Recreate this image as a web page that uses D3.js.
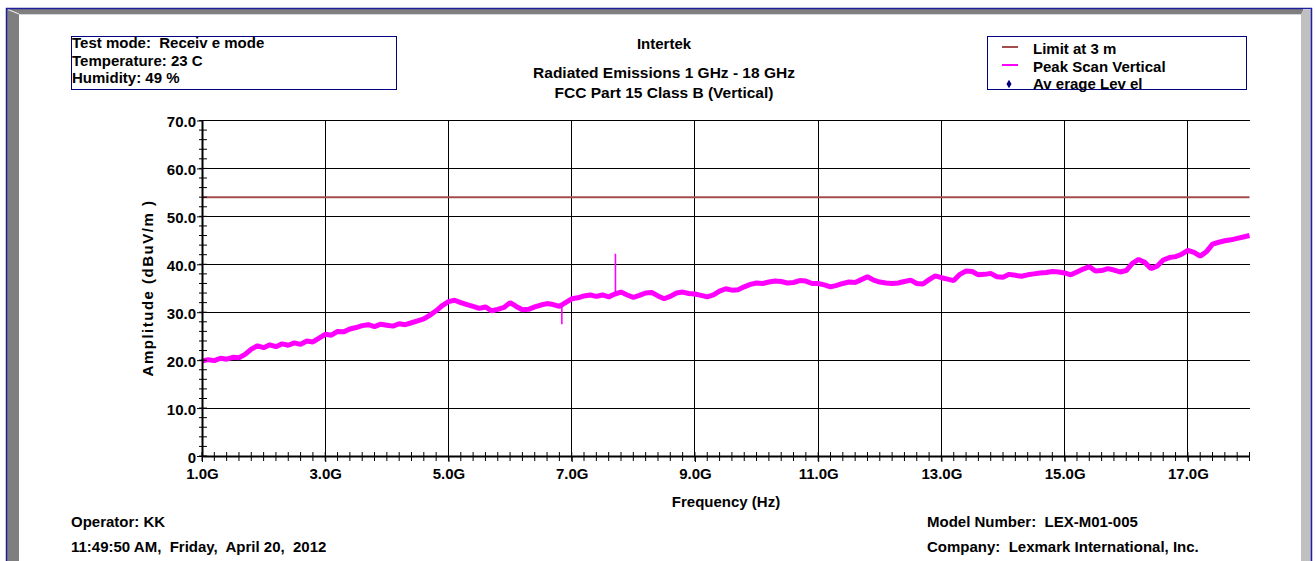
<!DOCTYPE html>
<html>
<head>
<meta charset="utf-8">
<script src="https://cdn.jsdelivr.net/npm/d3@7"></script>
<style>
  html, body { margin: 0; padding: 0; background: #fff; }
  svg { display: block; }
  text { font-family: "Liberation Sans", Arial, Helvetica, sans-serif; font-weight: bold; fill: #000; white-space: pre; }
</style>
</head>
<body>
<svg id="chart" width="1316" height="561"></svg>
<script>
// ---- Data -------------------------------------------------------------
const titleLines = ["Intertek", "Radiated Emissions 1 GHz - 18 GHz", "FCC Part 15 Class B (Vertical)"];
const conditionLines = ["Test mode:  Receiv e mode", "Temperature: 23 C", "Humidity: 49 %"];
const legendLabels = ["Limit at 3 m", "Peak Scan Vertical", "Av erage Lev el"];
const footerLeft = ["Operator: KK", "11:49:50 AM,  Friday,  April 20,  2012"];
const footerRight = ["Model Number:  LEX-M01-005", "Company:  Lexmark International, Inc."];

const freqTicksGHz = [1, 3, 5, 7, 9, 11, 13, 15, 17];
const ampTicks = [0, 10, 20, 30, 40, 50, 60, 70];
const limitAt3m = 54.0;           // dBuV/m, FCC Part 15 Class B above 1 GHz

// Peak scan (vertical), one reading per 0.1 GHz from 1.0 to 18.0 GHz
const sweepStartGHz = 1.0;
const sweepStepGHz = 0.1;
const peakScanVertical = [
  19.8, 20.1, 19.9, 20.4, 20.2, 20.6, 20.5, 21.2, 22.3, 23.0,   // 1.0 - 1.9
  22.6, 23.2, 22.8, 23.4, 23.1, 23.6, 23.3, 24.0, 23.8, 24.6,   // 2.0 - 2.9
  25.4, 25.2, 26.0, 25.9, 26.5, 26.8, 27.2, 27.4, 27.0, 27.5,   // 3.0 - 3.9
  27.3, 27.1, 27.6, 27.4, 27.8, 28.2, 28.6, 29.4, 30.3, 31.4,   // 4.0 - 4.9
  32.2, 32.5, 32.0, 31.6, 31.2, 30.8, 31.1, 30.3, 30.6, 31.0,   // 5.0 - 5.9
  32.0, 31.2, 30.5, 30.6, 31.1, 31.5, 31.8, 31.6, 31.2, 32.0,   // 6.0 - 6.9
  32.8, 33.0, 33.4, 33.6, 33.3, 33.6, 33.2, 33.8, 34.2, 33.6,   // 7.0 - 7.9
  33.1, 33.5, 34.0, 34.1, 33.4, 32.8, 33.3, 34.0, 34.2, 33.9,   // 8.0 - 8.9
  33.8, 33.5, 33.2, 33.6, 34.4, 34.9, 34.6, 34.7, 35.3, 35.8,   // 9.0 - 9.9
  36.1, 36.0, 36.3, 36.5, 36.4, 36.1, 36.2, 36.6, 36.5, 36.0,   // 10.0 - 10.9
  36.0, 35.7, 35.3, 35.6, 36.0, 36.3, 36.2, 36.8, 37.4, 36.7,   // 11.0 - 11.9
  36.3, 36.1, 36.0, 36.1, 36.4, 36.7, 36.0, 35.9, 36.8, 37.6,   // 12.0 - 12.9
  37.2, 36.9, 36.6, 37.9, 38.6, 38.5, 37.8, 37.9, 38.1, 37.4,   // 13.0 - 13.9
  37.3, 37.9, 37.7, 37.5, 37.8, 38.0, 38.2, 38.3, 38.5, 38.4,   // 14.0 - 14.9
  38.2, 37.8, 38.4, 39.0, 39.5, 38.6, 38.7, 39.1, 38.8, 38.4,   // 15.0 - 15.9
  38.7, 40.2, 41.0, 40.4, 39.1, 39.6, 40.9, 41.4, 41.6, 42.1,   // 16.0 - 16.9
  42.9, 42.5, 41.7, 42.6, 44.2, 44.6, 44.9, 45.1, 45.4, 45.7,   // 17.0 - 17.9
  46.0                                                          // 18.0
];
// Narrow excursions in the peak trace: frequency, low and high reading
const spikeFreqGHz = [6.84, 7.71];
const spikeLow = [27.5, 33.6];
const spikeHigh = [31.4, 42.2];

// ---- Setup ------------------------------------------------------------
const svg = d3.select("#chart");
const W = 1316, H = 561;
const FS = 15;

const x = d3.scaleLinear().domain([1, 18]).range([202, 1249.5]);
const y = d3.scaleLinear().domain([0, 70]).range([456, 120.5]);

svg.append("rect").attr("width", W).attr("height", H).attr("fill", "#fff");

// ---- Window frame: dark top/left bevel, light right edge, blue outline --
svg.append("path").attr("d", "M7,9 H1303 V14 H19 V561 H7 Z").attr("fill", "#7f7f7f");
svg.append("path").attr("d", "M1301,14 L1303,10 H1311 V561 H1301 Z").attr("fill", "#c0c0c0");
svg.append("path").attr("d", "M8,9.5 L19,14").attr("stroke", "#e6e6e6").attr("stroke-width", 1.2).attr("fill", "none");
svg.append("path").attr("d", "M19,14.5 H1301").attr("stroke", "#d6d6d6").attr("stroke-width", 1).attr("fill", "none");
svg.append("path").attr("d", `M6.5,${H} V8.5 H1311.5 V${H}`)
  .attr("fill", "none").attr("stroke", "#1f1f9f").attr("stroke-width", 1.5);

// ---- Titles & info boxes ---------------------------------------------
const titleY = [49, 77.5, 97.5];
svg.append("g").selectAll("text").data(titleLines).join("text")
  .attr("x", 664).attr("y", (d, i) => titleY[i])
  .attr("text-anchor", "middle").attr("font-size", (d, i) => i === 0 ? FS : 15.5).text(d => d);

svg.append("rect").attr("x", 71.5).attr("y", 36.5).attr("width", 325).attr("height", 53)
  .attr("fill", "none").attr("stroke", "#000080").attr("stroke-width", 1);
svg.append("g").selectAll("text").data(conditionLines).join("text")
  .attr("x", 72).attr("y", (d, i) => 48.3 + i * 17.5)
  .attr("font-size", FS).text(d => d);

// Legend
const legendColors = ["#a34e4e", "#ff00ff", "#000080"];
svg.append("rect").attr("x", 987.5).attr("y", 36.5).attr("width", 259).attr("height", 53)
  .attr("fill", "none").attr("stroke", "#000080").attr("stroke-width", 1);
const lg = svg.append("g");
legendLabels.forEach((lab, i) => {
  const cy = 47 + i * 18;
  if (i < 2) {
    lg.append("line").attr("x1", 1002).attr("x2", 1018).attr("y1", cy).attr("y2", cy)
      .attr("stroke", legendColors[i]).attr("stroke-width", 2);
  } else {
    lg.append("path").attr("d", d3.symbol(d3.symbolDiamond, 22)())
      .attr("transform", `translate(1009,${cy + 1})`).attr("fill", legendColors[i]);
  }
  lg.append("text").attr("x", 1033).attr("y", 54 + i * 17.7).attr("font-size", FS).text(lab);
});

// ---- Grid -------------------------------------------------------------
const grid = svg.append("g").attr("stroke", "#000").attr("stroke-width", 1).attr("shape-rendering", "crispEdges");
grid.selectAll(".gy").data(ampTicks.filter(d => d > 0)).join("line")
  .attr("x1", x(1)).attr("x2", x(18)).attr("y1", d => y(d)).attr("y2", d => y(d));
grid.selectAll(".gx").data(freqTicksGHz.filter(d => d > 1)).join("line")
  .attr("y1", y(0)).attr("y2", y(70)).attr("x1", d => x(d)).attr("x2", d => x(d));

// Limit line
svg.append("line").attr("x1", x(1)).attr("x2", x(18)).attr("y1", y(limitAt3m)).attr("y2", y(limitAt3m))
  .attr("stroke", legendColors[0]).attr("stroke-width", 2);

// ---- Peak trace -------------------------------------------------------
const peakLine = d3.line()
  .x((d, i) => x(sweepStartGHz + i * sweepStepGHz))
  .y(d => y(d));
svg.append("path").datum(peakScanVertical).attr("d", peakLine)
  .attr("fill", "none").attr("stroke", "#ff00ff").attr("stroke-width", 5)
  .attr("stroke-linejoin", "bevel").attr("stroke-linecap", "butt");
svg.append("g").selectAll("line").data(spikeFreqGHz).join("line")
  .attr("x1", d => x(d)).attr("x2", d => x(d))
  .attr("y1", (d, i) => y(spikeLow[i])).attr("y2", (d, i) => y(spikeHigh[i]))
  .attr("stroke", "#ff00ff").attr("stroke-width", 1.6);

// ---- Axes -------------------------------------------------------------
const minorFreq = d3.range(0, 86).map(i => 1 + i * 0.2);
const minorAmp = d3.range(0, 36).map(i => i * 2);

const xAxis = svg.append("g").attr("transform", `translate(0,${y(0)})`)
  .call(d3.axisBottom(x).tickValues(freqTicksGHz).tickSize(6).tickSizeOuter(0)
    .tickFormat(d => d.toFixed(1) + "G"));
xAxis.select(".domain").attr("stroke", "#000").attr("stroke-width", 2);
xAxis.selectAll("text").attr("y", 23).attr("dy", null).attr("font-size", FS);
xAxis.attr("font-family", null).attr("font-size", null);

const xMinor = svg.append("g").attr("stroke", "#000").attr("stroke-width", 1);
xMinor.selectAll("line").data(minorFreq).join("line")
  .attr("x1", d => x(d)).attr("x2", d => x(d)).attr("y1", y(0) - 4).attr("y2", y(0) + 5);

const yAxis = svg.append("g").attr("transform", `translate(${x(1)},0)`)
  .call(d3.axisLeft(y).tickValues(ampTicks).tickSize(5).tickSizeOuter(0)
    .tickFormat(d => d === 0 ? "0" : d.toFixed(1)));
yAxis.select(".domain").attr("stroke", "#000").attr("stroke-width", 2);
yAxis.selectAll("text").attr("x", -6).attr("dy", "0.42em").attr("font-size", FS);
yAxis.attr("font-family", null).attr("font-size", null);

const yMinor = svg.append("g").attr("stroke", "#000").attr("stroke-width", 1);
yMinor.selectAll("line").data(minorAmp).join("line")
  .attr("y1", d => y(d)).attr("y2", d => y(d)).attr("x1", x(1) - 3).attr("x2", x(1) + 5);

// Axis titles
svg.append("text").attr("x", 726).attr("y", 507).attr("text-anchor", "middle")
  .attr("font-size", FS).text("Frequency (Hz)");
svg.append("text").attr("transform", "translate(153,288) rotate(-90)").attr("text-anchor", "middle")
  .attr("font-size", FS).attr("letter-spacing", 1.5).text("Amplitude (dBuV/m )");

// ---- Footer -----------------------------------------------------------
svg.append("g").selectAll("text").data(footerLeft).join("text")
  .attr("x", 71).attr("y", (d, i) => 527 + i * 25).attr("font-size", FS).text(d => d);
svg.append("g").selectAll("text").data(footerRight).join("text")
  .attr("x", 927).attr("y", (d, i) => 527 + i * 25).attr("font-size", FS).text(d => d);
</script>
</body>
</html>
